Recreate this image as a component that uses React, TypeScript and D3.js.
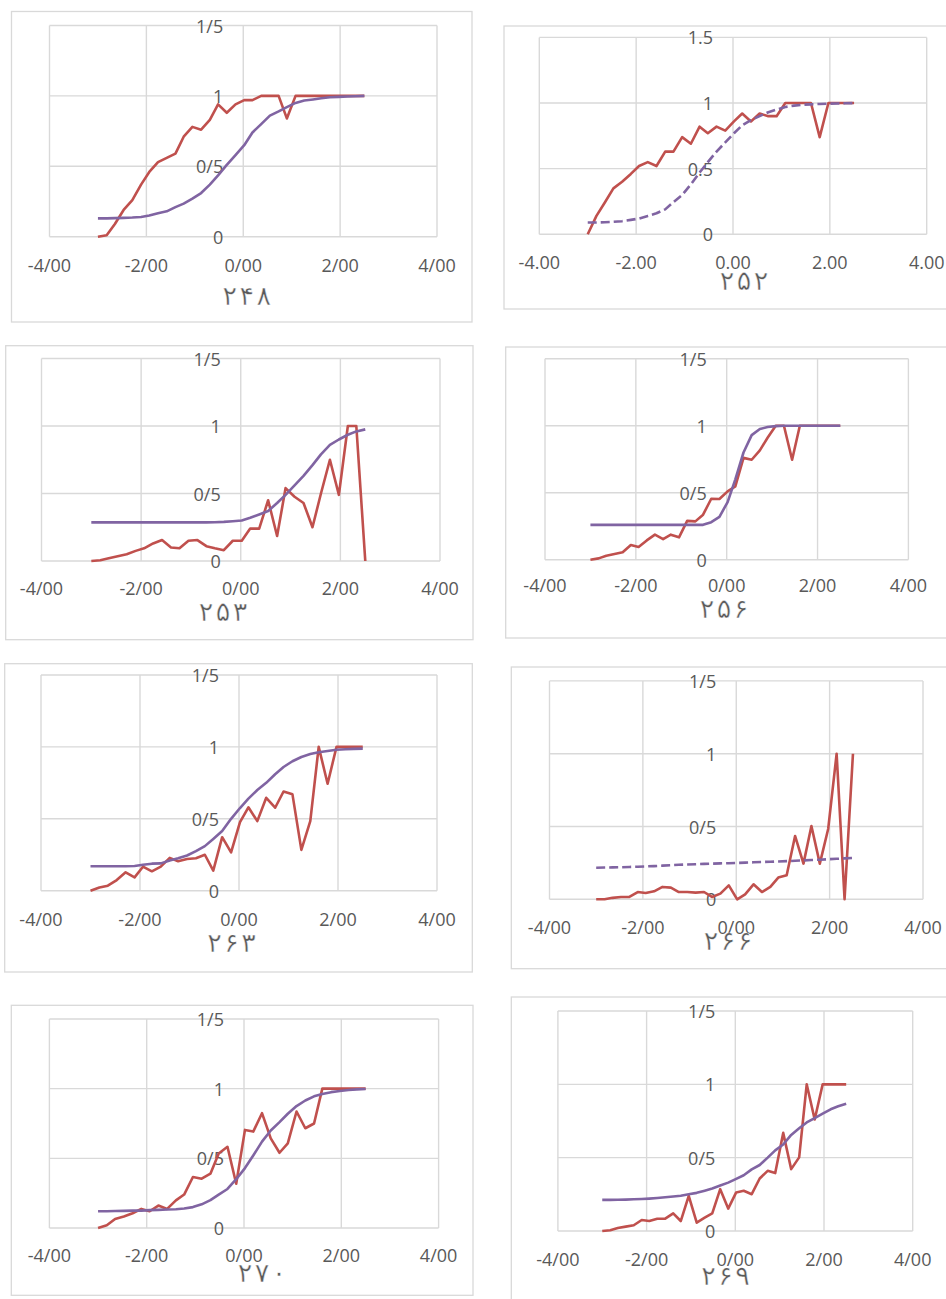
import React from "react";
import * as d3 from "d3";

// ability points (theta) shared by every item
const theta = [-3.0, -2.82, -2.65, -2.47, -2.29, -2.11, -1.94, -1.76, -1.58, -1.4, -1.23, -1.05, -0.87, -0.69, -0.52, -0.34,
  -0.16, 0.02, 0.19, 0.37, 0.55, 0.73, 0.9, 1.08, 1.26, 1.44, 1.61, 1.79, 1.97, 2.15, 2.32, 2.5];

// observed proportions (red)
const obs248 = [0, 0.01, 0.09, 0.19, 0.26, 0.37, 0.46, 0.53, 0.56, 0.59, 0.71, 0.78, 0.76, 0.83, 0.94, 0.88,
  0.94, 0.97, 0.97, 1, 1, 1, 0.84, 1, 1, 1, 1, 1, 1, 1, 1, 1];
const obs252 = [0, 0.14, 0.24, 0.35, 0.4, 0.46, 0.52, 0.55, 0.52, 0.63, 0.63, 0.74, 0.69, 0.82, 0.77, 0.82,
  0.79, 0.86, 0.92, 0.86, 0.92, 0.9, 0.9, 1, 1, 1, 1, 0.74, 1, 1, 1, 1];
const obs253 = [0, 0.005, 0.02, 0.035, 0.05, 0.075, 0.094, 0.13, 0.155, 0.1, 0.094, 0.15, 0.155, 0.11, 0.094, 0.08,
  0.15, 0.15, 0.24, 0.24, 0.45, 0.185, 0.54, 0.476, 0.43, 0.25, 0.5, 0.75, 0.49, 1, 1, 0];
const obs256 = [0, 0.01, 0.03, 0.042, 0.055, 0.11, 0.095, 0.144, 0.187, 0.154, 0.187, 0.167, 0.29, 0.286, 0.336, 0.455,
  0.453, 0.51, 0.547, 0.76, 0.746, 0.816, 0.91, 1, 1, 0.746, 1, 1, 1, 1, 1, 1];
const obs263 = [0, 0.022, 0.035, 0.074, 0.128, 0.093, 0.167, 0.135, 0.167, 0.228, 0.205, 0.22, 0.226, 0.25, 0.14, 0.372,
  0.267, 0.477, 0.58, 0.484, 0.646, 0.577, 0.69, 0.67, 0.284, 0.484, 1, 0.744, 1, 1, 1, 1];
const obs266 = [0, 0, 0.01, 0.016, 0.016, 0.05, 0.043, 0.055, 0.085, 0.08, 0.05, 0.05, 0.046, 0.05, 0.016, 0.039,
  0.096, 0, 0.034, 0.103, 0.05, 0.085, 0.149, 0.165, 0.435, 0.245, 0.503, 0.245, 0.485, 1, 0, 1];
const obs270 = [0, 0.02, 0.065, 0.082, 0.106, 0.137, 0.12, 0.161, 0.137, 0.198, 0.24, 0.366, 0.354, 0.39, 0.535, 0.583,
  0.318, 0.704, 0.692, 0.824, 0.643, 0.54, 0.607, 0.836, 0.716, 0.75, 1, 1, 1, 1, 1, 1];
const obs269 = [0, 0.005, 0.02, 0.03, 0.039, 0.075, 0.068, 0.084, 0.084, 0.12, 0.068, 0.24, 0.057, 0.091, 0.12, 0.285,
  0.153, 0.263, 0.274, 0.251, 0.358, 0.41, 0.395, 0.669, 0.422, 0.502, 1, 0.76, 1, 1, 1, 1];

// model curves (purple)
const icc248 = [0.13, 0.13, 0.132, 0.134, 0.136, 0.14, 0.15, 0.166, 0.18, 0.21, 0.235, 0.27, 0.31, 0.37, 0.435, 0.51,
  0.58, 0.65, 0.74, 0.8, 0.86, 0.89, 0.92, 0.95, 0.967, 0.975, 0.983, 0.99, 0.993, 0.996, 0.998, 1.0];
const icc252 = [0.09, 0.09, 0.092, 0.095, 0.1, 0.11, 0.12, 0.14, 0.16, 0.19, 0.245, 0.3, 0.38, 0.47, 0.55, 0.63,
  0.7, 0.77, 0.83, 0.87, 0.9, 0.93, 0.95, 0.97, 0.98, 0.987, 0.99, 0.993, 0.995, 0.997, 0.998, 1.0];
const icc253 = [0.286, 0.286, 0.286, 0.286, 0.286, 0.286, 0.286, 0.286, 0.286, 0.286, 0.286, 0.286, 0.286, 0.286, 0.287, 0.29,
  0.295, 0.3, 0.32, 0.345, 0.37, 0.43, 0.49, 0.56, 0.63, 0.71, 0.79, 0.86, 0.9, 0.935, 0.96, 0.975];
const icc256 = [0.26, 0.26, 0.26, 0.26, 0.26, 0.26, 0.26, 0.26, 0.26, 0.26, 0.26, 0.26, 0.26, 0.26, 0.26, 0.28,
  0.32, 0.43, 0.6, 0.8, 0.93, 0.975, 0.99, 0.997, 1, 1, 1, 1, 1, 1, 1, 1];
const icc263 = [0.17, 0.17, 0.17, 0.17, 0.17, 0.172, 0.18, 0.188, 0.19, 0.21, 0.225, 0.245, 0.275, 0.31, 0.36, 0.415,
  0.5, 0.575, 0.64, 0.7, 0.75, 0.81, 0.86, 0.9, 0.93, 0.95, 0.963, 0.972, 0.98, 0.984, 0.986, 0.988];
const icc266 = [0.217, 0.218, 0.219, 0.22, 0.222, 0.224, 0.226, 0.228, 0.231, 0.234, 0.237, 0.239, 0.241, 0.243, 0.245, 0.247,
  0.248, 0.25, 0.252, 0.254, 0.256, 0.258, 0.26, 0.262, 0.265, 0.267, 0.27, 0.272, 0.275, 0.278, 0.281, 0.284];
const icc270 = [0.12, 0.12, 0.122, 0.123, 0.125, 0.125, 0.128, 0.13, 0.133, 0.135, 0.14, 0.15, 0.17, 0.2, 0.24, 0.28,
  0.35, 0.43, 0.52, 0.62, 0.7, 0.76, 0.82, 0.875, 0.915, 0.945, 0.962, 0.975, 0.983, 0.99, 0.995, 0.998];
const icc269 = [0.212, 0.212, 0.213, 0.214, 0.216, 0.218, 0.221, 0.225, 0.23, 0.235, 0.24, 0.25, 0.26, 0.275, 0.29, 0.31,
  0.33, 0.355, 0.38, 0.42, 0.45, 0.5, 0.55, 0.59, 0.655, 0.7, 0.74, 0.77, 0.8, 0.83, 0.85, 0.868];

const titles = ["۲۴۸", "۲۵۲", "۲۵۳", "۲۵۶", "۲۶۳", "۲۶۶", "۲۷۰", "۲۶۹"];
const observedSeries = [obs248, obs252, obs253, obs256, obs263, obs266, obs270, obs269];
const modelSeries = [icc248, icc252, icc253, icc256, icc263, icc266, icc270, icc269];

const xTicks = [-4, -2, 0, 2, 4];
const yTicks = [0, 0.5, 1, 1.5];
const xLabelsFa = ["-4/00", "-2/00", "0/00", "2/00", "4/00"];
const yLabelsFa = ["0", "0/5", "1", "1/5"];
const xLabelsEn = ["-4.00", "-2.00", "0.00", "2.00", "4.00"];
const yLabelsEn = ["0", "0.5", "1", "1.5"];

// where each small chart sits on the page
const panels = [
  { frame: [11.5, 11.5, 472, 322], plot: [49.5, 437, 25.5, 236.7], labelY: 265, titleX: 246.7, titleY: 295, dot: false, dashed: false },
  { frame: [504, 26, 960, 309], plot: [539.3, 926.7, 37.4, 234.3], labelY: 262, titleX: 744, titleY: 280, dot: true, dashed: true },
  { frame: [5.7, 345.7, 473, 639.7], plot: [41.5, 440, 358.5, 561], labelY: 588, titleX: 223, titleY: 611, dot: false, dashed: false },
  { frame: [505.7, 347, 960, 638], plot: [545, 908.4, 358.7, 559.7], labelY: 584.7, titleX: 724, titleY: 608, dot: false, dashed: false },
  { frame: [4.7, 663.7, 472.3, 972], plot: [41, 437, 675, 890.7], labelY: 918.7, titleX: 231.5, titleY: 942, dot: false, dashed: false },
  { frame: [511.3, 667, 960, 968.7], plot: [549.5, 923, 680.9, 899.3], labelY: 927, titleX: 728, titleY: 940, dot: false, dashed: true },
  { frame: [11.3, 1005.3, 473, 1295.3], plot: [49.4, 438.6, 1019, 1228], labelY: 1255, titleX: 262, titleY: 1272, dot: false, dashed: false },
  { frame: [511.3, 997, 960, 1320], plot: [557.9, 912.7, 1011, 1231], labelY: 1258.7, titleX: 725.5, titleY: 1275, dot: false, dashed: false },
];

const RED = "#c0504d";
const PURPLE = "#8064a2";
const GRID = "#d9d9d9";
const TEXT = "#595959";
const FONT = "'Open Sans', 'DejaVu Sans', sans-serif";
const DIGIT_STEP = 17; // spacing between the title's digits

function Panel({ index }: { index: number }) {
  const p = panels[index];
  const [fx0, fy0, fx1, fy1] = p.frame;
  const [px0, px1, pyTop, pyBottom] = p.plot;
  const x = d3.scaleLinear().domain([-4, 4]).range([px0, px1]);
  const y = d3.scaleLinear().domain([0, 1.5]).range([pyBottom, pyTop]);
  const line = d3.line<number>().x((_, i) => x(theta[i])).y((d) => y(d));
  const xLabels = p.dot ? xLabelsEn : xLabelsFa;
  const yLabels = p.dot ? yLabelsEn : yLabelsFa;
  const digits = Array.from(titles[index]);

  return (
    <g>
      <rect x={fx0} y={fy0} width={fx1 - fx0} height={fy1 - fy0} fill="#fff" stroke={GRID} strokeWidth={1.3} />
      {xTicks.map((t) => (
        <line key={"vx" + t} x1={x(t)} x2={x(t)} y1={y(1.5)} y2={y(0)} stroke={GRID} strokeWidth={1.4} />
      ))}
      {yTicks.map((t) => (
        <line key={"hy" + t} x1={x(-4)} x2={x(4)} y1={y(t)} y2={y(t)} stroke={GRID} strokeWidth={1.4} />
      ))}
      {yTicks.map((t, i) => (
        <text key={"yl" + t} x={x(0) - 20} y={y(t)} textAnchor="end" dominantBaseline="central"
          fontFamily={FONT} fontSize={18} fill={TEXT}>{yLabels[i]}</text>
      ))}
      {xTicks.map((t, i) => (
        <text key={"xl" + t} x={x(t)} y={p.labelY} textAnchor="middle" dominantBaseline="central"
          fontFamily={FONT} fontSize={18} fill={TEXT}>{xLabels[i]}</text>
      ))}
      <path d={line(observedSeries[index]) || ""} fill="none" stroke={RED} strokeWidth={2.6} strokeLinejoin="round" />
      <path d={line(modelSeries[index]) || ""} fill="none" stroke={PURPLE} strokeWidth={2.6} strokeLinejoin="round"
        strokeDasharray={p.dashed ? "9 4" : undefined} />
      <text y={p.titleY} textAnchor="middle" dominantBaseline="central"
        fontFamily="'DejaVu Sans', sans-serif" fontSize={27} fill={TEXT} stroke="#fff" strokeWidth={0.45}>
        {digits.map((ch, i) => (
          <tspan key={i} x={p.titleX + (i - (digits.length - 1) / 2) * DIGIT_STEP}>{ch}</tspan>
        ))}
      </text>
    </g>
  );
}

export default function App() {
  return (
    <svg width={946} height={1299} viewBox="0 0 946 1299"
      style={{ position: "absolute", left: 0, top: 0, background: "#fff" }}>
      <rect x={0} y={0} width={946} height={1299} fill="#fff" />
      {panels.map((_, i) => <Panel key={i} index={i} />)}
    </svg>
  );
}
